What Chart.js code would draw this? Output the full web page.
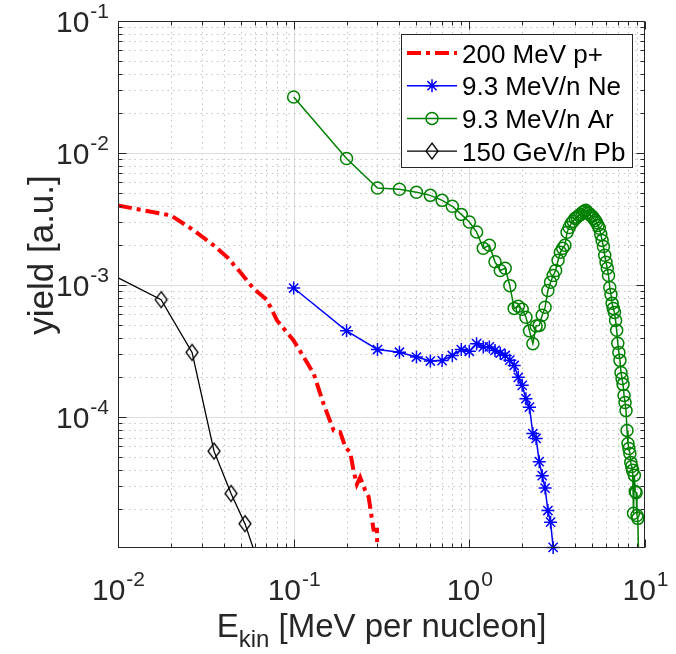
<!DOCTYPE html>
<html>
<head>
<meta charset="utf-8">
<script src="https://cdn.jsdelivr.net/npm/chart.js@4.4.1/dist/chart.umd.min.js"></script>
<style>
  html, body { margin: 0; padding: 0; background: #fff; }
</style>
</head>
<body>
<canvas id="yieldChart" width="676" height="654"></canvas>
<script>
// energy per nucleon [MeV] and yield [a.u.] for each beam
const protonX = [0.01, 0.02, 0.027, 0.035, 0.0418, 0.0497, 0.0591, 0.0705, 0.0804, 0.1, 0.114, 0.13,
  0.148, 0.169, 0.184, 0.197, 0.21, 0.219, 0.229, 0.239, 0.255, 0.267, 0.285, 0.298, 0.30];
const protonY = [4.0e-3, 3.37e-3, 2.6e-3, 2.0e-3, 1.63e-3, 1.25e-3, 9.4e-4, 7.7e-4, 5.4e-4, 3.8e-4, 2.85e-4, 2.13e-4,
  1.26e-4, 7.9e-5, 7.7e-5, 5.9e-5, 5.4e-5, 3.95e-5, 3.1e-5, 3.5e-5, 2.8e-5, 2.5e-5, 1.4e-5, 1.4e-5, 8e-6];

const neX = [0.1, 0.2, 0.3, 0.4, 0.5, 0.6, 0.7, 0.8, 0.9, 1.0, 1.1, 1.2, 1.3, 1.4, 1.5,
  1.6, 1.7, 1.8, 1.9, 2.0, 2.1, 2.2, 2.3, 2.4, 2.5, 2.6, 2.7, 2.8, 2.9, 3.0];
const neY = [9.5e-4, 4.5e-4, 3.25e-4, 3.1e-4, 2.85e-4, 2.66e-4, 2.68e-4, 2.93e-4, 3.25e-4, 3.15e-4,
  3.6e-4, 3.4e-4, 3.4e-4, 3.2e-4, 3.05e-4, 2.93e-4, 2.7e-4, 2.46e-4, 2.0e-4, 1.74e-4,
  1.38e-4, 1.19e-4, 7.5e-5, 6.9e-5, 4.6e-5, 3.6e-5, 2.9e-5, 1.96e-5, 1.6e-5, 1.03e-5];

const arX = [0.1, 0.2, 0.3, 0.4, 0.5, 0.6, 0.7, 0.8, 0.9, 1.0, 1.1, 1.2, 1.3, 1.4, 1.5, 1.6, 1.7, 1.8, 1.9, 2.0,
  2.1, 2.2, 2.3, 2.4, 2.5, 2.6, 2.7, 2.8, 2.9, 3.0, 3.1, 3.2, 3.3, 3.4, 3.5, 3.6, 3.7, 3.8, 3.9, 4.0,
  4.1, 4.2, 4.3, 4.4, 4.5, 4.6, 4.7, 4.8, 4.9, 5.0, 5.1, 5.2, 5.3, 5.4, 5.5, 5.6, 5.7, 5.8, 5.9, 6.0,
  6.1, 6.2, 6.3, 6.4, 6.5, 6.6, 6.7, 6.8, 6.9, 7.0, 7.1, 7.2, 7.3, 7.4, 7.5, 7.6, 7.7, 7.8, 7.9, 8.0,
  8.1, 8.2, 8.3, 8.4, 8.5, 8.6, 8.7, 8.8, 8.9, 9.0, 9.1, 9.2];
const arY = [0.0266, 0.0091, 5.43e-3, 5.31e-3, 5.04e-3, 4.78e-3, 4.38e-3, 3.95e-3, 3.43e-3, 3.0e-3,
  2.52e-3, 1.9e-3, 2.0e-3, 1.5e-3, 1.29e-3, 1.34e-3, 9.9e-4, 6.66e-4, 6.9e-4, 6.55e-4,
  5.7e-4, 4.5e-4, 3.6e-4, 4.9e-4, 4.95e-4, 5.9e-4, 6.8e-4, 9.1e-4, 1.05e-3, 1.18e-3,
  1.29e-3, 1.54e-3, 1.77e-3, 1.9e-3, 2.0e-3, 2.51e-3, 2.73e-3, 2.93e-3, 3.04e-3, 3.2e-3,
  3.26e-3, 3.37e-3, 3.43e-3, 3.55e-3, 3.62e-3, 3.68e-3, 3.55e-3, 3.49e-3, 3.37e-3, 3.32e-3,
  3.2e-3, 3.09e-3, 2.98e-3, 2.83e-3, 2.69e-3, 2.42e-3, 2.18e-3, 1.96e-3, 1.68e-3, 1.49e-3,
  1.34e-3, 1.18e-3, 9.6e-4, 8.5e-4, 7.27e-4, 6.66e-4, 6.21e-4, 5.4e-4, 4.54e-4, 3.62e-4,
  3.09e-4, 2.69e-4, 2.18e-4, 1.96e-4, 1.77e-4, 1.46e-4, 1.29e-4, 1.12e-4, 7.93e-5, 6.32e-5,
  5.79e-5, 5.31e-5, 4.54e-5, 4.23e-5, 3.95e-5, 1.87e-5, 3.62e-5, 2.73e-5, 2.68e-5, 1.8e-5,
  1.71e-5, 8e-6];

const pbX = [0.0088, 0.0176, 0.0264, 0.0352, 0.044, 0.0528, 0.0616];
const pbY = [1.24e-3, 7.75e-4, 3.09e-4, 5.52e-5, 2.64e-5, 1.56e-5, 8.5e-6];

const seriesNames = ['200 MeV p+', '9.3 MeV/n Ne', '9.3 MeV/n Ar', '150 GeV/n Pb'];
const xTickExp = [-2, -1, 0, 1];
const yTickExp = [-4, -3, -2, -1];

const FONT = '"Liberation Sans", Arial, Helvetica, sans-serif';
const AXIS_COLOR = '#262626';
const RED = '#ff0000', BLUE = '#0000ff', GREEN = '#008000', BLACK = '#000000';

function toPoints(xs, ys) {
  return xs.map((x, i) => ({ x: x, y: ys[i] }));
}

// MATLAB style diamond: a bit taller than wide
function diamondMarker(w, h, color, lw) {
  const c = document.createElement('canvas');
  c.width = w + 4;
  c.height = h + 4;
  const g = c.getContext('2d');
  const cx = c.width / 2, cy = c.height / 2;
  g.strokeStyle = color;
  g.lineWidth = lw;
  g.beginPath();
  g.moveTo(cx, cy - h / 2);
  g.lineTo(cx + w / 2, cy);
  g.lineTo(cx, cy + h / 2);
  g.lineTo(cx - w / 2, cy);
  g.closePath();
  g.stroke();
  return c;
}
const diamond = diamondMarker(12, 16, BLACK, 1.3);

// power of ten label: "10" with the exponent raised
function drawPow(ctx, exp, x, y, align) {
  const base = '10', sup = String(exp);
  ctx.font = '30px ' + FONT;
  const wb = ctx.measureText(base).width;
  ctx.font = '21px ' + FONT;
  const ws = ctx.measureText(sup).width;
  let x0 = x;
  if (align === 'center') x0 = x - (wb + ws) / 2;
  if (align === 'right') x0 = x - (wb + ws);
  ctx.textAlign = 'left';
  ctx.textBaseline = 'alphabetic';
  ctx.font = '30px ' + FONT;
  ctx.fillText(base, x0, y);
  ctx.font = '21px ' + FONT;
  ctx.fillText(sup, x0 + wb + 1, y - 14);
}

const axesDecor = {
  id: 'axesDecor',
  beforeDatasetsDraw(chart) {
    const { ctx, chartArea: a, scales: { x, y } } = chart;
    ctx.save();
    ctx.lineWidth = 1;
    // grid: solid at decades, dotted in between
    for (let d = -3; d <= 1; d++) {
      for (let m = 1; m <= 9; m++) {
        const v = m * Math.pow(10, d);
        ctx.strokeStyle = m === 1 ? '#dedede' : '#c4c4c4';
        ctx.setLineDash(m === 1 ? [] : [1.5, 4]);
        if (v > x.min * 1.0001 && v < x.max * 0.9999) {
          const px = Math.round(x.getPixelForValue(v)) + 0.5;
          ctx.beginPath(); ctx.moveTo(px, a.top); ctx.lineTo(px, a.bottom); ctx.stroke();
        }
      }
    }
    for (let d = -6; d <= -1; d++) {
      for (let m = 1; m <= 9; m++) {
        const v = m * Math.pow(10, d);
        ctx.strokeStyle = m === 1 ? '#dedede' : '#c4c4c4';
        ctx.setLineDash(m === 1 ? [] : [1.5, 4]);
        if (v > y.min * 1.0001 && v < y.max * 0.9999) {
          const py = Math.round(y.getPixelForValue(v)) + 0.5;
          ctx.beginPath(); ctx.moveTo(a.left, py); ctx.lineTo(a.right, py); ctx.stroke();
        }
      }
    }
    ctx.restore();
  },
  afterDatasetsDraw(chart) {
    const { ctx, chartArea: a, scales: { x, y } } = chart;
    ctx.save();
    ctx.strokeStyle = AXIS_COLOR;
    ctx.fillStyle = AXIS_COLOR;
    ctx.lineWidth = 1;
    ctx.setLineDash([]);
    const L = Math.round(a.left) + 0.5, R = Math.round(a.right) - 0.5;
    const T = Math.round(a.top) + 0.5, B = Math.round(a.bottom) - 0.5;
    ctx.strokeRect(L, T, R - L, B - T);

    // inward tick marks on all four sides
    for (let d = -3; d <= 1; d++) {
      for (let m = 1; m <= 9; m++) {
        const v = m * Math.pow(10, d);
        if (v < x.min * 0.9999 || v > x.max * 1.0001) continue;
        const len = m === 1 ? 8 : 4;
        const px = Math.round(x.getPixelForValue(v)) + 0.5;
        ctx.beginPath();
        ctx.moveTo(px, B); ctx.lineTo(px, B - len);
        ctx.moveTo(px, T); ctx.lineTo(px, T + len);
        ctx.stroke();
      }
    }
    for (let d = -6; d <= -1; d++) {
      for (let m = 1; m <= 9; m++) {
        const v = m * Math.pow(10, d);
        if (v < y.min * 0.9999 || v > y.max * 1.0001) continue;
        const len = m === 1 ? 8 : 4;
        const py = Math.round(y.getPixelForValue(v)) + 0.5;
        ctx.beginPath();
        ctx.moveTo(L, py); ctx.lineTo(L + len, py);
        ctx.moveTo(R, py); ctx.lineTo(R - len, py);
        ctx.stroke();
      }
    }

    // tick labels
    ctx.fillStyle = AXIS_COLOR;
    xTickExp.forEach(e => drawPow(ctx, e, x.getPixelForValue(Math.pow(10, e)), a.bottom + 52, 'center'));
    yTickExp.forEach(e => drawPow(ctx, e, a.left - 10, y.getPixelForValue(Math.pow(10, e)) + 11, 'right'));

    // x title with subscript
    const big = '33px ' + FONT, small = '24px ' + FONT;
    ctx.font = big;
    const wE = ctx.measureText('E').width;
    const rest = ' [MeV per nucleon]';
    const wR = ctx.measureText(rest).width;
    ctx.font = small;
    const wK = ctx.measureText('kin').width;
    const total = wE + wK + wR;
    const tx = (a.left + a.right) / 2 - total / 2;
    const ty = a.bottom + 89;
    ctx.textAlign = 'left';
    ctx.font = big; ctx.fillText('E', tx, ty);
    ctx.font = small; ctx.fillText('kin', tx + wE, ty + 10);
    ctx.font = big; ctx.fillText(rest, tx + wE + wK, ty);

    // y title
    ctx.save();
    ctx.translate(53, 255);
    ctx.rotate(-Math.PI / 2);
    ctx.textAlign = 'center';
    ctx.font = '35px ' + FONT;
    ctx.fillText('yield [a.u.]', 0, 0);
    ctx.restore();

    // legend box
    const bx = 401, by = 34, bw = 231, bh = 133;
    ctx.fillStyle = '#ffffff';
    ctx.fillRect(bx, by, bw, bh);
    ctx.strokeStyle = AXIS_COLOR;
    ctx.strokeRect(bx + 0.5, by + 0.5, bw, bh);
    chart.data.datasets.forEach((d, i) => {
      const ry = 53 + i * 32.7;
      ctx.save();
      ctx.strokeStyle = d.borderColor;
      ctx.fillStyle = 'rgba(0,0,0,0)';
      ctx.lineWidth = d.borderWidth;
      ctx.setLineDash(d.borderDash || []);
      ctx.beginPath(); ctx.moveTo(407, ry); ctx.lineTo(457, ry); ctx.stroke();
      ctx.setLineDash([]);
      if (d.pointRadius > 0) {
        ctx.lineWidth = d.pointBorderWidth;
        Chart.helpers.drawPoint(ctx, {
          pointStyle: d.pointStyle, radius: d.pointRadius, borderWidth: d.pointBorderWidth, rotation: 0
        }, 432, ry);
      }
      ctx.restore();
      ctx.fillStyle = '#000000';
      ctx.font = '26px ' + FONT;
      ctx.textAlign = 'left';
      ctx.textBaseline = 'alphabetic';
      ctx.fillText(d.label, 462, ry + 9.5);
    });
    ctx.restore();
  }
};

new Chart(document.getElementById('yieldChart').getContext('2d'), {
  type: 'scatter',
  data: {
    datasets: [
      {
        label: seriesNames[0],
        data: toPoints(protonX, protonY),
        showLine: true,
        borderColor: RED,
        backgroundColor: RED,
        borderWidth: 4,
        borderDash: [14, 5, 4, 5],
        borderCapStyle: 'butt',
        pointRadius: 0,
        pointBorderWidth: 0,
      },
      {
        label: seriesNames[1],
        data: toPoints(neX, neY),
        showLine: true,
        borderColor: BLUE,
        backgroundColor: 'rgba(0,0,0,0)',
        borderWidth: 1.5,
        pointStyle: 'star',
        pointRadius: 6.5,
        pointBorderWidth: 1.5,
        pointBorderColor: BLUE,
        clip: false,
      },
      {
        label: seriesNames[2],
        data: toPoints(arX, arY),
        showLine: true,
        borderColor: GREEN,
        backgroundColor: 'rgba(0,0,0,0)',
        borderWidth: 1.5,
        pointStyle: 'circle',
        pointRadius: 6,
        pointBorderWidth: 1.5,
        pointBorderColor: GREEN,
      },
      {
        label: seriesNames[3],
        data: toPoints(pbX, pbY),
        showLine: true,
        borderColor: BLACK,
        backgroundColor: 'rgba(0,0,0,0)',
        borderWidth: 1.3,
        pointStyle: diamond,
        pointRadius: 7,
        pointBorderWidth: 1.3,
      },
    ],
  },
  options: {
    responsive: false,
    animation: false,
    events: [],
    layout: { padding: { left: 118, top: 21, right: 31, bottom: 106 } },
    elements: { line: { tension: 0 } },
    scales: {
      x: { type: 'logarithmic', min: 0.01, max: 10, display: false },
      y: { type: 'logarithmic', min: 1.02e-5, max: 0.1, display: false },
    },
    plugins: {
      legend: { display: false },
      tooltip: { enabled: false },
    },
  },
  plugins: [axesDecor],
});
</script>
</body>
</html>
